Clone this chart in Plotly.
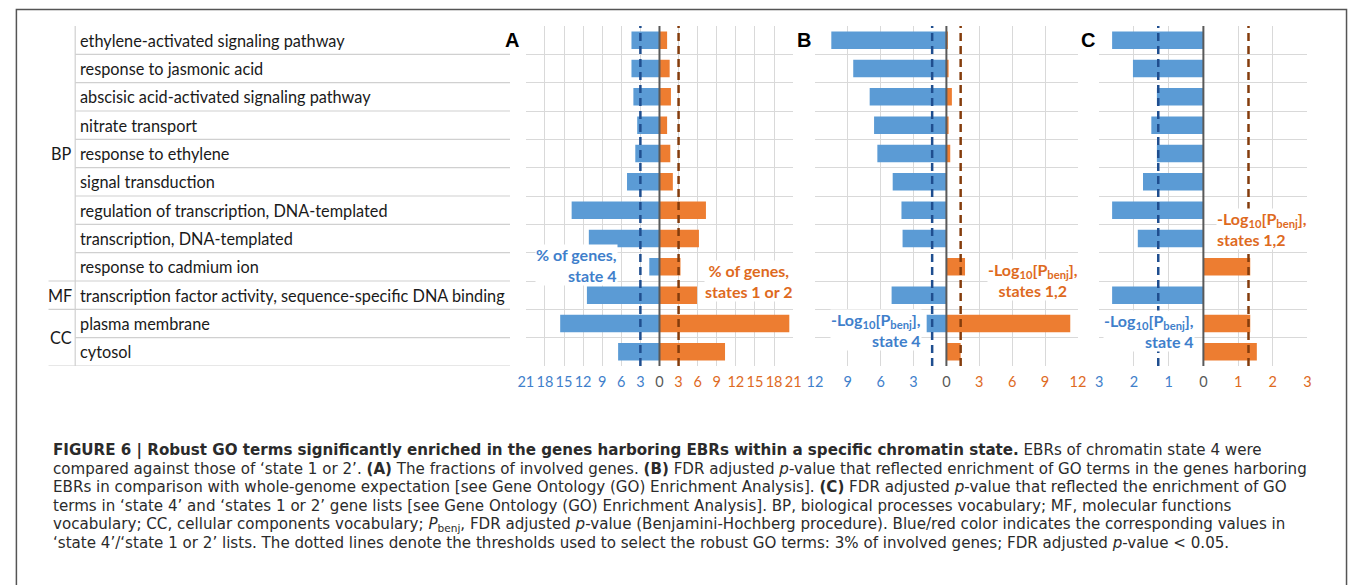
import plotly.graph_objects as go

# ---------------- data ----------------
terms = [
    "ethylene-activated signaling pathway",
    "response to jasmonic acid",
    "abscisic acid-activated signaling pathway",
    "nitrate transport",
    "response to ethylene",
    "signal transduction",
    "regulation of transcription, DNA-templated",
    "transcription, DNA-templated",
    "response to cadmium ion",
    "transcription factor activity, sequence-specific DNA binding",
    "plasma membrane",
    "cytosol",
]
groups = ["BP", "MF", "CC"]
group_rows = [(0, 8), (9, 9), (10, 11)]

pct_state4 = [4.4, 4.4, 4.1, 3.5, 3.8, 5.1, 13.8, 11.1, 1.6, 11.4, 15.6, 6.5]
pct_state12 = [1.2, 1.6, 1.8, 1.2, 1.7, 2.1, 7.3, 6.2, 3.3, 5.9, 20.4, 10.3]
logp_b_state4 = [10.5, 8.5, 7.0, 6.6, 6.3, 4.9, 4.1, 4.0, 0, 5.0, 1.8, 0]
logp_b_state12 = [0.1, 0.2, 0.5, 0.2, 0.35, 0, 0, 0, 1.7, 0, 11.3, 1.3]
logp_c_state4 = [2.63, 2.03, 1.34, 1.5, 1.34, 1.74, 2.63, 1.89, 0, 2.63, 0, 0]
logp_c_state12 = [0, 0, 0, 0, 0, 0, 0, 0, 1.35, 0, 1.35, 1.54]

thresholds = [3, 1.3, 1.3]
axis_max = [21, 12, 3]
axis_step = [3, 3, 1]
panel_letters = ["A", "B", "C"]

caption_lines = [
    "<b>FIGURE 6 | Robust GO terms significantly enriched in the genes harboring EBRs within a specific chromatin state.</b> EBRs of chromatin state 4 were",
    "compared against those of ‘state 1 or 2’. <b>(A)</b> The fractions of involved genes. <b>(B)</b> FDR adjusted <i>p</i>-value that reflected enrichment of GO terms in the genes harboring",
    "EBRs in comparison with whole-genome expectation [see Gene Ontology (GO) Enrichment Analysis]. <b>(C)</b> FDR adjusted <i>p</i>-value that reflected the enrichment of GO",
    "terms in ‘state 4’ and ‘states 1 or 2’ gene lists [see Gene Ontology (GO) Enrichment Analysis]. BP, biological processes vocabulary; MF, molecular functions",
    "vocabulary; CC, cellular components vocabulary; <i>P</i><sub>benj</sub>, FDR adjusted <i>p</i>-value (Benjamini-Hochberg procedure). Blue/red color indicates the corresponding values in",
    "‘state 4’/‘state 1 or 2’ lists. The dotted lines denote the thresholds used to select the robust GO terms: 3% of involved genes; FDR adjusted <i>p</i>-value &lt; 0.05.",
]

# ---------------- styling ----------------
W, H = 1357, 585
BLUE = "#5B9BD5"
ORANGE = "#ED7D31"
BLUE_TXT = "#3F7FCB"
ORANGE_TXT = "#DE6A1E"
BLUE_DASH = "#1F4E8F"
BROWN_DASH = "#843C0C"
GRID = "#D9D9D9"
FONT = "Lato, 'Open Sans', sans-serif"
CAP_FONT = "'DejaVu Sans', 'Liberation Sans', sans-serif"


def px(x):
    return x / W


def py(y):
    return 1 - y / H


panel_x = [(524, 794.5), (816.5, 1082.7), (1104.3, 1315)]
plot_top, plot_bot = 26, 366

series = [
    (pct_state4, pct_state12),
    (logp_b_state4, logp_b_state12),
    (logp_c_state4, logp_c_state12),
]

fig = go.Figure()
rows = list(range(len(terms)))
shapes = []
annotations = []

for k in range(3):
    xa = "x" if k == 0 else f"x{k+1}"
    ya = "y" if k == 0 else f"y{k+1}"
    s4, s12 = series[k]
    fig.add_trace(go.Bar(y=rows, x=[-v for v in s4], orientation="h", marker_color=BLUE,
                         marker_line_width=0, width=0.62, xaxis=xa, yaxis=ya,
                         showlegend=False, hoverinfo="skip"))
    fig.add_trace(go.Bar(y=rows, x=s12, orientation="h", marker_color=ORANGE,
                         marker_line_width=0, width=0.62, xaxis=xa, yaxis=ya,
                         showlegend=False, hoverinfo="skip"))
    m, st = axis_max[k], axis_step[k]
    tv = list(range(-m, m + 1, st))
    tt = []
    for v in tv:
        if v < 0:
            tt.append(f'<span style="color:{BLUE_TXT}">{-v}</span>')
        elif v == 0:
            tt.append('<span style="color:#595959">0</span>')
        else:
            tt.append(f'<span style="color:{ORANGE_TXT}">{v}</span>')
    xkey = "xaxis" if k == 0 else f"xaxis{k+1}"
    ykey = "yaxis" if k == 0 else f"yaxis{k+1}"
    fig.layout[xkey] = dict(domain=[px(panel_x[k][0]), px(panel_x[k][1])], range=[-m, m],
                            tickvals=tv, ticktext=tt, tickangle=0, anchor=ya,
                            showgrid=True, gridcolor=GRID, gridwidth=1, zeroline=False,
                            showline=False, ticks="", fixedrange=True, ticklabelstandoff=5,
                            tickfont=dict(family=FONT, size=14.5, color=BLUE_TXT))
    fig.layout[ykey] = dict(domain=[py(plot_bot), py(plot_top)], range=[11.5, -0.5],
                            tickvals=[i + 0.5 for i in rows], showticklabels=False,
                            showgrid=True, gridcolor=GRID, gridwidth=1, zeroline=False,
                            showline=False, ticks="", anchor=xa, fixedrange=True)
    # zero line and thresholds
    shapes.append(dict(type="line", xref=xa, yref=f"{ya} domain", x0=0, x1=0, y0=0, y1=1.0,
                       line=dict(color="#595959", width=2), layer="above"))
    thr = thresholds[k]
    shapes.append(dict(type="line", xref=xa, yref=f"{ya} domain", x0=-thr, x1=-thr, y0=0, y1=1.0,
                       line=dict(color=BLUE_DASH, width=2.5, dash="8px,5px"), layer="above"))
    shapes.append(dict(type="line", xref=xa, yref=f"{ya} domain", x0=thr, x1=thr, y0=0, y1=1.0,
                       line=dict(color=BROWN_DASH, width=2.5, dash="8px,5px"), layer="above"))
    annotations.append(dict(text=f"<b>{panel_letters[k]}</b>", xref="paper", yref="paper",
                            x=px([510, 806, 1093][k]), y=py(40), xanchor="center", yanchor="middle",
                            showarrow=False,
                            font=dict(family="Liberation Sans, Arial", size=20, color="black")))

# ---------------- table at left ----------------
for i, t in enumerate(terms):
    annotations.append(dict(text=t, xref="paper", yref="y", x=px(71), y=i, xanchor="left",
                            yanchor="middle", showarrow=False,
                            font=dict(family=FONT, size=16.3, color="#1a1a1a")))
    long_line = i in (8, 9, 11)
    shapes.append(dict(type="line", xref="paper", yref="y", x0=px(41 if long_line else 68),
                       x1=px(508), y0=i + 0.5, y1=i + 0.5, line=dict(color="#D0D0D0", width=1.2)))
shapes.append(dict(type="line", xref="paper", yref="y", x0=px(68), x1=px(68), y0=-0.5, y1=11.5,
                   line=dict(color="#D0D0D0", width=1.2)))
for g, (a, b) in zip(groups, group_rows):
    annotations.append(dict(text=g, xref="paper", yref="y", x=px(67), y=(a + b) / 2 if g != "BP" else 4,
                            xanchor="right", yanchor="middle", showarrow=False,
                            font=dict(family=FONT, size=16.3, color="#1a1a1a")))

# ---------------- series labels ----------------
lg = "-Log<sub>10</sub>[P<sub>benj</sub>],"
labels = [
    ("% of genes,<br>state 4", 617, 265, "right", "right", BLUE_TXT),
    ("% of genes,<br>states 1 or 2", 750, 281, "center", "center", ORANGE_TXT),
    (lg + "<br>states 1,2", 1037, 280, "center", "center", ORANGE_TXT),
    (lg + "<br>state 4", 925, 330, "right", "right", BLUE_TXT),
    (lg + "<br>states 1,2", 1222, 229, "left", "left", ORANGE_TXT),
    (lg + "<br>state 4", 1201, 331, "right", "right", BLUE_TXT),
]
for txt, x, y, xanc, al, col in labels:
    annotations.append(dict(text=f"<b>{txt}</b>", xref="paper", yref="paper", x=px(x), y=py(y),
                            xanchor=xanc, yanchor="middle", align=al, showarrow=False,
                            bgcolor="white", borderpad=0,
                            font=dict(family=FONT, size=16, color=col)))

# ---------------- caption ----------------
cap_y = [450, 468.5, 487, 505.5, 524, 542.5]
for line, y in zip(caption_lines, cap_y):
    annotations.append(dict(text=line, xref="paper", yref="paper", x=px(45), y=py(y),
                            xanchor="left", yanchor="middle", showarrow=False, borderpad=0,
                            font=dict(family=CAP_FONT, size=15.1, color="#2b2b2b")))

# outer frame
shapes.append(dict(type="rect", xref="paper", yref="paper", x0=px(8.5), x1=px(1354.5),
                   y0=py(620), y1=py(9.5), line=dict(color="#555555", width=1.5), layer="below"))

fig.update_layout(
    width=W, height=H, margin=dict(l=0, r=0, t=0, b=0),
    paper_bgcolor="white", plot_bgcolor="white",
    barmode="relative", bargap=0.38,
    shapes=shapes, annotations=annotations,
    font=dict(family=FONT),
)

fig.write_html("out.html", config={"displayModeBar": False},
               post_script="document.body.style.margin='0';document.body.style.overflow='hidden';")
